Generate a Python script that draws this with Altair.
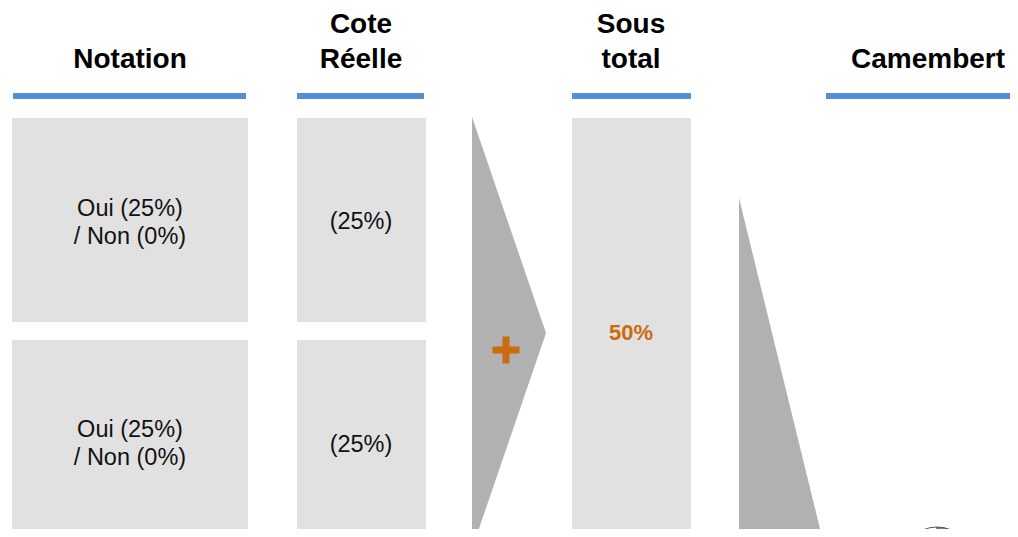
import altair as alt
import pandas as pd

# ---------------- content ----------------
header_lines = [["Notation"], ["Cote", "Réelle"], ["Sous", "total"], ["Camembert"]]
notation_lines = ["Oui (25%)", "/ Non (0%)"]
cote_label = "(25%)"
sous_total_label = "50%"
pie_labels = ["Oui", "Non"]
pie_values = [50, 50]

# ---------------- layout (pixels of the 1018x537 page) ----------------
M = 8  # page margin
PW, PH = 1002, 521  # drawable chart size
XR = M + PW
YB = M + PH
col_center = [130, 361, 631, 928]
header_base = [[68], [32.5, 68], [32.5, 68], [68]]
bar_x = [(13, 246), (297, 424), (572, 691), (826, 1030)]
bar_y = (93, 99)
box_rows = [(118, 322), (340, 600)]
notation_box = (12, 248)
cote_box = (297, 426)
sous_box = (572, 691, 118, 600)
notation_base = [[216, 244], [437, 465]]
cote_base = [229, 452]
sous_base = 340
chevron = {"x": 472, "tip": (546, 333), "top": 117, "bottom": 549}
wedge = {"x": 739, "top": 198, "bottom": (822, 537)}
plus = {"cx": 506, "cy": 350, "half": 13.5, "thick": 3.5}
pie = {"cx": 937, "cy": 563, "r": 36}

BLUE = "#558ed5"
BOX = "#e1e1e1"
ARROW = "#b1b1b1"
ORANGE = "#cc6a10"
FONT = "Liberation Sans"

xs = alt.Scale(domain=[M, XR], nice=False, zero=False)
ys = alt.Scale(domain=[M, YB], nice=False, zero=False, reverse=True)

def X(f):
    return alt.X(f, type="quantitative", scale=xs, axis=None)

def Y(f):
    return alt.Y(f, type="quantitative", scale=ys, axis=None)

# header texts
rows = []
for c, lines, bases in zip(col_center, header_lines, header_base):
    for t, b in zip(lines, bases):
        rows.append({"x": c, "y": b, "t": t})
headers = alt.Chart(pd.DataFrame(rows)).mark_text(
    font=FONT, fontSize=28, fontWeight="bold", color="#000000", align="center", baseline="alphabetic"
).encode(x=X("x"), y=Y("y"), text="t:N")

# blue rules
bars = alt.Chart(pd.DataFrame([{"x": a, "x2": b, "y": bar_y[0], "y2": bar_y[1]} for a, b in bar_x])).mark_rect(
    color=BLUE, clip=True
).encode(x=X("x"), x2="x2:Q", y=Y("y"), y2="y2:Q")

# grey boxes
box_rows_df = []
for (t, b) in box_rows:
    box_rows_df.append({"x": notation_box[0], "x2": notation_box[1], "y": t, "y2": b})
    box_rows_df.append({"x": cote_box[0], "x2": cote_box[1], "y": t, "y2": b})
box_rows_df.append({"x": sous_box[0], "x2": sous_box[1], "y": sous_box[2], "y2": sous_box[3]})
boxes = alt.Chart(pd.DataFrame(box_rows_df)).mark_rect(color=BOX, clip=True).encode(
    x=X("x"), x2="x2:Q", y=Y("y"), y2="y2:Q"
)

# body texts
body = []
for bases in notation_base:
    for t, b in zip(notation_lines, bases):
        body.append({"x": col_center[0], "y": b, "t": t})
for b in cote_base:
    body.append({"x": col_center[1], "y": b, "t": cote_label})
body_txt = alt.Chart(pd.DataFrame(body)).mark_text(
    font=FONT, fontSize=23.5, color="#111111", align="center", baseline="alphabetic"
).encode(x=X("x"), y=Y("y"), text="t:N")

sous_txt = alt.Chart(pd.DataFrame([{"x": col_center[2], "y": sous_base, "t": sous_total_label}])).mark_text(
    font=FONT, fontSize=22, fontWeight="bold", color=ORANGE, align="center", baseline="alphabetic"
).encode(x=X("x"), y=Y("y"), text="t:N")

# chevron arrow (vertical area between upper and lower edges)
chev_df = pd.DataFrame([
    {"x": chevron["x"], "y": chevron["top"], "y2": chevron["bottom"]},
    {"x": chevron["tip"][0], "y": chevron["tip"][1], "y2": chevron["tip"][1]},
])
chev = alt.Chart(chev_df).mark_area(color=ARROW, opacity=1, clip=True).encode(
    x=X("x"), y=Y("y"), y2="y2:Q"
)

# wedge
slope = (wedge["bottom"][0] - wedge["x"]) / (wedge["bottom"][1] - wedge["top"])
yb = 600
wedge_df = pd.DataFrame([
    {"x": wedge["x"], "y": wedge["top"], "y2": yb},
    {"x": wedge["x"] + slope * (yb - wedge["top"]), "y": yb, "y2": yb},
])
wedge_ch = alt.Chart(wedge_df).mark_area(color=ARROW, opacity=1, clip=True).encode(
    x=X("x"), y=Y("y"), y2="y2:Q"
)

# plus sign
p = plus
plus_df = pd.DataFrame([
    {"x": p["cx"] - p["half"], "x2": p["cx"] + p["half"], "y": p["cy"] - p["thick"], "y2": p["cy"] + p["thick"]},
    {"x": p["cx"] - p["thick"], "x2": p["cx"] + p["thick"], "y": p["cy"] - p["half"], "y2": p["cy"] + p["half"]},
])
plus_ch = alt.Chart(plus_df).mark_rect(color=ORANGE).encode(x=X("x"), x2="x2:Q", y=Y("y"), y2="y2:Q")

# pie
pie_df = pd.DataFrame({"k": pie_labels, "v": pie_values, "cx": pie["cx"], "cy": pie["cy"], "o": [0, 1]})
pie_ch = alt.Chart(pie_df).mark_arc(radius=pie["r"], stroke="#555555", strokeWidth=1, clip=True).encode(
    x=X("cx"), y=Y("cy"),
    theta=alt.Theta("v:Q", stack=True),
    order=alt.Order("o:Q"),
    color=alt.Color("k:N", scale=alt.Scale(domain=pie_labels, range=["#7a7a7a", "#ffffff"]), legend=None),
)

chart = alt.layer(boxes, bars, chev, wedge_ch, plus_ch, pie_ch, headers, body_txt, sous_txt).properties(
    width=PW, height=PH, padding=0, autosize=alt.AutoSizeParams(type="none"), background="#ffffff"
).configure_view(strokeWidth=0)

chart.save("out.html", embed_options={"renderer": "svg", "actions": False})
